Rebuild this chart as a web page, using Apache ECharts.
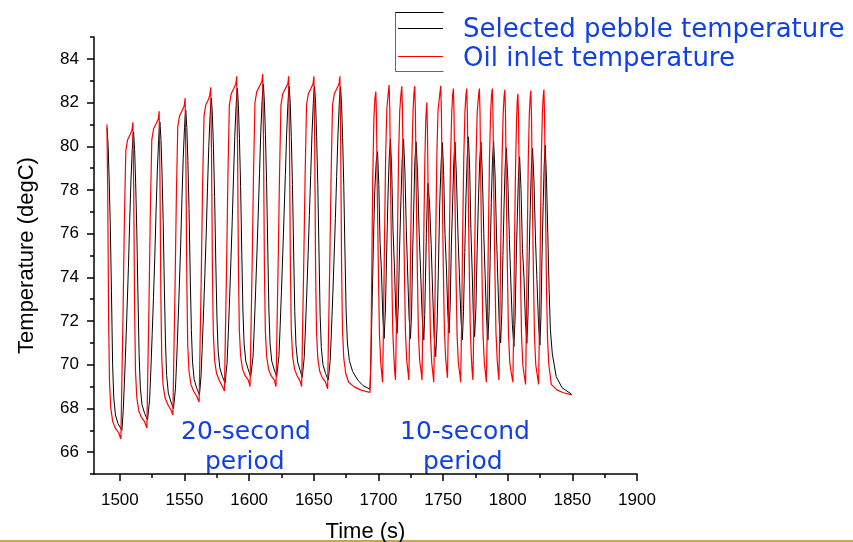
<!DOCTYPE html>
<html lang="en">
<head>
<meta charset="UTF-8">
<title>Pebble temperature</title>
<script src="https://cdn.jsdelivr.net/npm/echarts@6/dist/echarts.min.js"></script>
<style>
  html, body { margin: 0; padding: 0; background: #fff; }
  #chart { width: 853px; height: 542px; }
</style>
</head>
<body>
<div id="chart"></div>
<script>
// axis ticks
var xMajorTicks = [1500, 1550, 1600, 1650, 1700, 1750, 1800, 1850, 1900];
var xMinorTicks = [1525, 1575, 1625, 1675, 1725, 1775, 1825, 1875];
var yMajorTicks = [66, 68, 70, 72, 74, 76, 78, 80, 82, 84];
var yMinorTicks = [65, 67, 69, 71, 73, 75, 77, 79, 81, 83, 85];

var seriesNames = ['Selected pebble temperature', 'Oil inlet temperature'];

// [time (s), temperature (degC)]
var pebbleTemp = [
  [1490.1,80.85],[1490.9,80.05],[1491.7,78.55],[1492.6,76.35],[1493.5,73.35],[1494.4,70.0],[1495.3,68.5],[1496.6,67.7],[1498.6,67.3],[1501.6,67.0],
  [1502.6,67.9],[1503.6,69.3],[1504.6,70.9],[1505.6,72.6],[1506.6,74.4],[1507.6,76.56],[1508.6,78.46],[1509.6,79.86],[1510.2,80.46],
  [1510.6,80.66],[1511.4,79.86],[1512.2,78.36],[1513.1,76.16],[1514.0,73.16],[1514.9,70.48],[1515.8,68.98],[1517.1,68.18],[1519.1,67.78],[1521.4,67.48],
  [1523.0,68.38],[1524.0,69.78],[1525.0,71.38],[1526.0,73.08],[1527.0,74.88],[1528.0,77.0],[1529.0,78.9],[1530.0,80.3],[1530.6,80.9],
  [1531.0,81.1],[1531.8,80.3],[1532.6,78.8],[1533.5,76.6],[1534.4,73.6],[1535.3,71.0],[1536.2,69.5],[1537.5,68.7],[1539.5,68.3],[1541.5,68.0],
  [1543.0,68.9],[1544.0,70.3],[1545.0,71.9],[1546.0,73.6],[1547.0,75.4],[1548.0,77.55],[1549.0,79.45],[1550.0,80.85],[1550.6,81.45],
  [1551.0,81.65],[1551.8,80.85],[1552.6,79.35],[1553.5,77.15],[1554.4,74.15],[1555.3,71.62],[1556.2,70.12],[1557.5,69.32],[1559.5,68.92],[1561.6,68.62],
  [1562.8,69.52],[1563.8,70.92],[1564.8,72.52],[1565.8,74.22],[1566.8,76.02],[1567.8,78.1],[1568.8,80.0],[1569.8,81.4],[1570.4,82.0],
  [1570.8,82.2],[1571.6,81.4],[1572.4,79.9],[1573.3,77.7],[1574.2,74.7],[1575.1,72.16],[1576.0,70.66],[1577.3,69.86],[1579.3,69.46],[1581.4,69.16],
  [1582.9,70.06],[1583.9,71.46],[1584.9,73.06],[1585.9,74.76],[1586.9,76.56],[1587.9,78.55],[1588.9,80.45],[1589.9,81.85],[1590.5,82.45],
  [1590.9,82.65],[1591.7,81.85],[1592.5,80.35],[1593.4,78.15],[1594.3,75.15],[1595.2,72.46],[1596.1,70.96],[1597.4,70.16],[1599.4,69.76],[1601.2,69.46],
  [1603.0,70.36],[1604.0,71.76],[1605.0,73.36],[1606.0,75.06],[1607.0,76.86],[1608.0,78.74],[1609.0,80.64],[1610.0,82.04],[1610.6,82.64],
  [1611.0,82.84],[1611.8,82.04],[1612.6,80.54],[1613.5,78.34],[1614.4,75.34],[1615.3,72.46],[1616.2,70.96],[1617.5,70.16],[1619.5,69.76],[1621.3,69.46],
  [1623.0,70.36],[1624.0,71.76],[1625.0,73.36],[1626.0,75.06],[1627.0,76.86],[1628.0,78.65],[1629.0,80.55],[1630.0,81.95],[1630.6,82.55],
  [1631.0,82.75],[1631.8,81.95],[1632.6,80.45],[1633.5,78.25],[1634.4,75.25],[1635.3,72.43],[1636.2,70.93],[1637.5,70.13],[1639.5,69.73],[1641.1,69.43],
  [1642.6,70.33],[1643.6,71.73],[1644.6,73.33],[1645.6,75.03],[1646.6,76.83],[1647.6,78.65],[1648.6,80.55],[1649.6,81.95],[1650.2,82.55],
  [1650.6,82.75],[1651.4,81.95],[1652.2,80.45],[1653.1,78.25],[1654.0,75.25],[1654.9,72.3],[1655.8,70.8],[1657.1,70.0],[1659.1,69.6],[1661.2,69.3],
  [1662.7,70.2],[1663.7,71.6],[1664.7,73.2],[1665.7,74.9],[1666.7,76.7],[1667.7,78.62],[1668.7,80.52],[1669.7,81.92],[1670.3,82.52],
  [1670.7,82.72],[1671.5,81.9],[1672.3,80.4],[1673.2,78.2],[1674.1,75.2],[1675.0,72.5],[1676.0,71.0],[1677.5,70.2],[1680.0,69.7],[1684.0,69.3],[1688.0,69.05],[1693.5,68.88],
  // 10-second period
  [1694.3,70.5],[1695.2,73.0],[1696.2,75.8],[1697.2,78.0],[1698.3,79.3],
  [1699.3,79.75],[1700.3,78.25],[1701.3,75.55],[1702.4,74.2],[1703.4,72.2],[1704.4,71.2],[1705.4,72.5],[1706.4,75.2],[1707.3,77.53],[1708.3,79.43],
  [1709.3,80.33],[1710.3,78.83],[1711.3,76.13],[1712.4,74.44],[1713.4,72.44],[1714.4,71.44],[1715.4,72.74],[1716.4,75.44],[1717.4,77.53],[1718.4,79.43],
  [1719.4,80.33],[1720.5,78.83],[1721.6,76.13],[1722.6,74.2],[1723.7,72.2],[1724.8,71.2],[1725.7,72.5],[1726.5,75.2],[1727.4,77.4],[1728.2,79.3],
  [1729.1,80.2],[1730.3,78.7],[1731.5,76.0],[1732.7,74.14],[1733.9,72.14],[1735.1,71.14],[1735.8,72.3],[1736.4,74.0],[1737.1,76.0],[1737.8,77.6],
  [1738.4,78.3],[1739.6,77.3],[1740.8,75.5],[1742.0,73.2],[1743.1,71.3],[1744.3,70.37],[1745.3,71.67],[1746.4,74.37],[1747.4,77.36],[1748.5,79.26],
  [1749.5,80.16],[1750.5,78.66],[1751.5,75.96],[1752.6,74.44],[1753.6,72.44],[1754.6,71.44],[1755.5,72.74],[1756.4,75.44],[1757.4,77.4],[1758.3,79.3],
  [1759.2,80.2],[1760.3,78.7],[1761.5,76.0],[1762.6,74.14],[1763.8,72.14],[1764.9,71.14],[1765.8,72.44],[1766.8,75.14],[1767.7,77.63],[1768.7,79.53],
  [1769.6,80.43],[1770.6,78.93],[1771.5,76.23],[1772.5,74.29],[1773.4,72.29],[1774.4,71.29],[1775.4,72.59],[1776.4,75.29],[1777.3,77.4],[1778.3,79.3],
  [1779.3,80.2],[1780.4,78.7],[1781.5,76.0],[1782.5,74.14],[1783.6,72.14],[1784.7,71.14],[1785.6,72.44],[1786.5,75.14],[1787.3,77.43],[1788.2,79.33],
  [1789.1,80.23],[1790.2,78.73],[1791.3,76.03],[1792.3,74.0],[1793.4,72.0],[1794.5,71.0],[1795.4,72.3],[1796.3,75.0],[1797.1,77.13],[1798.0,79.03],
  [1798.9,79.93],[1800.1,78.43],[1801.3,75.73],[1802.4,73.83],[1803.6,71.83],[1804.8,70.83],[1805.7,72.13],[1806.6,74.83],[1807.4,76.72],[1808.3,78.62],
  [1809.2,79.52],[1810.3,78.02],[1811.4,75.32],[1812.6,73.98],[1813.7,71.98],[1814.8,70.98],[1815.7,72.28],[1816.6,74.98],[1817.4,77.1],[1818.3,79.0],
  [1819.2,79.9],[1820.3,78.4],[1821.5,75.7],[1822.6,73.9],[1823.8,71.9],[1824.9,70.9],[1825.7,72.2],[1826.5,74.9],[1827.4,77.25],[1828.2,79.15],
  [1829.0,80.05],[1830.0,78.5],[1831.0,76.0],[1832.0,73.5],[1833.0,71.6],[1834.5,70.5],[1837.5,69.46],[1842.0,68.95],[1849.5,68.65]
];

var oilTemp = [
  [1490.0,81.0],[1490.6,78.0],[1491.3,72.1],[1492.0,69.2],[1493.0,68.0],[1494.5,67.4],[1496.5,67.1],[1499.0,66.9],[1500.8,66.6],
  [1501.5,69.1],[1502.4,72.1],[1503.5,76.6],[1504.6,79.8],[1506.0,80.3],[1508.1,80.55],[1509.4,80.75],
  [1510.1,81.1],[1510.7,78.1],[1511.4,72.6],[1512.1,69.7],[1513.1,68.5],[1514.6,67.9],[1516.6,67.6],[1519.1,67.4],[1520.9,67.1],
  [1521.6,69.6],[1522.5,72.6],[1523.6,77.1],[1524.7,80.3],[1526.1,80.8],[1528.2,81.05],[1529.7,81.25],
  [1530.4,81.6],[1531.0,78.6],[1531.7,73.2],[1532.4,70.3],[1533.4,69.1],[1534.9,68.5],[1536.9,68.2],[1539.4,67.95],[1541.0,67.7],
  [1541.7,70.2],[1542.6,73.2],[1543.7,77.7],[1544.8,80.9],[1546.2,81.4],[1548.3,81.65],[1549.8,81.85],
  [1550.5,82.2],[1551.1,79.2],[1551.8,73.8],[1552.5,70.9],[1553.5,69.7],[1555.0,69.1],[1557.0,68.8],[1559.5,68.55],[1561.3,68.3],
  [1562.0,70.8],[1562.9,73.8],[1564.0,78.2],[1565.1,81.4],[1566.5,81.9],[1568.6,82.15],[1569.6,82.35],
  [1570.3,82.7],[1570.9,79.7],[1571.6,74.3],[1572.3,71.4],[1573.3,70.2],[1574.8,69.6],[1576.8,69.3],[1579.3,69.0],[1580.9,68.8],
  [1581.6,71.3],[1582.5,74.3],[1583.6,78.7],[1584.7,81.9],[1586.1,82.4],[1588.2,82.65],[1589.7,82.85],
  [1590.4,83.2],[1591.0,80.2],[1591.7,74.5],[1592.4,71.6],[1593.4,70.4],[1594.9,69.8],[1596.9,69.5],[1599.4,69.3],[1600.7,69.0],
  [1601.4,71.5],[1602.3,74.5],[1603.4,78.8],[1604.5,82.0],[1605.9,82.5],[1608.0,82.75],[1609.8,82.95],
  [1610.5,83.3],[1611.1,80.3],[1611.8,74.5],[1612.5,71.6],[1613.5,70.4],[1615.0,69.8],[1617.0,69.5],[1619.5,69.3],[1620.8,69.0],
  [1621.5,71.5],[1622.4,74.5],[1623.5,78.7],[1624.6,81.9],[1626.0,82.4],[1628.1,82.65],[1629.9,82.85],
  [1630.6,83.2],[1631.2,80.2],[1631.9,74.5],[1632.6,71.6],[1633.6,70.4],[1635.1,69.8],[1637.1,69.5],[1639.4,69.25],[1640.6,69.0],
  [1641.3,71.5],[1642.2,74.5],[1643.3,78.7],[1644.4,81.9],[1645.8,82.4],[1647.9,82.65],[1649.4,82.85],
  [1650.1,83.2],[1650.7,80.2],[1651.4,74.4],[1652.1,71.5],[1653.1,70.3],[1654.6,69.7],[1656.6,69.4],[1659.1,69.2],[1660.7,68.9],
  [1661.4,71.4],[1662.3,74.4],[1663.4,78.7],[1664.5,81.9],[1665.9,82.4],[1668.0,82.65],[1669.5,82.85],
  [1670.2,83.2],[1670.8,80.2],[1671.5,74.5],[1672.2,71.6],[1673.2,70.3],[1674.7,69.6],[1677.0,69.2],[1681.0,69.0],[1686.0,68.85],[1693.4,68.73],
  // 10-second period
  [1694.1,70.0],[1694.8,74.0],[1695.6,78.5],[1696.5,81.3],[1697.3,82.2],
  [1698.0,82.5],[1698.5,81.3],[1699.2,77.5],[1700.0,74.2],[1700.8,71.4],[1701.8,70.1],[1702.7,69.5],[1703.2,69.2],[1703.9,71.7],[1704.7,75.7],[1705.6,79.6],[1706.5,81.7],[1707.7,82.5],
  [1708.3,82.8],[1708.8,81.6],[1709.5,77.8],[1710.3,74.3],[1711.1,71.5],[1712.1,70.2],[1712.7,69.6],[1713.2,69.3],[1713.9,71.8],[1714.7,75.8],[1715.6,79.55],[1716.5,81.65],[1717.5,82.45],
  [1718.1,82.75],[1718.6,81.55],[1719.3,77.75],[1720.1,74.3],[1720.9,71.5],[1721.9,70.2],[1723.0,69.6],[1723.5,69.3],[1724.2,71.8],[1725.0,75.8],[1725.9,79.55],[1726.8,81.65],[1727.5,82.45],
  [1728.1,82.75],[1728.6,81.55],[1729.3,77.75],[1730.1,74.3],[1730.9,71.5],[1731.9,70.2],[1733.2,69.6],[1733.7,69.3],[1734.3,71.8],[1735.0,75.5],[1735.8,79.0],[1736.6,81.2],
  [1737.4,82.0],[1737.9,80.8],[1738.6,77.0],[1739.4,74.2],[1740.2,71.4],[1741.2,70.1],[1742.3,69.5],[1742.8,69.2],[1743.5,71.7],[1744.3,75.7],[1745.2,79.55],[1746.1,81.65],[1747.6,82.45],
  [1748.2,82.77],[1748.7,81.6],[1749.4,77.8],[1750.2,74.4],[1751.0,71.6],[1752.0,70.3],[1752.9,69.7],[1753.4,69.4],[1754.1,71.9],[1754.9,75.9],[1755.8,79.45],[1756.7,81.55],[1757.4,82.35],
  [1758.0,82.64],[1758.5,81.45],[1759.2,77.65],[1760.0,74.2],[1760.8,71.4],[1761.8,70.1],[1763.1,69.5],[1763.6,69.2],[1764.3,71.7],[1765.1,75.7],[1766.0,79.45],[1766.9,81.55],[1767.7,82.35],
  [1768.3,82.64],[1768.8,81.45],[1769.5,77.65],[1770.3,74.3],[1771.1,71.5],[1772.0,70.2],[1772.6,69.6],[1773.1,69.3],[1773.8,71.8],[1774.6,75.8],[1775.5,79.45],[1776.4,81.55],[1777.5,82.35],
  [1778.1,82.64],[1778.6,81.45],[1779.3,77.65],[1780.1,74.2],[1780.9,71.4],[1781.9,70.1],[1783.0,69.5],[1783.5,69.2],[1784.2,71.7],[1785.0,75.7],[1785.9,79.45],[1786.8,81.55],[1787.5,82.35],
  [1788.1,82.64],[1788.6,81.45],[1789.3,77.65],[1790.1,74.3],[1790.9,71.5],[1791.9,70.2],[1792.7,69.6],[1793.2,69.3],[1793.9,71.8],[1794.7,75.8],[1795.6,79.4],[1796.5,81.5],[1797.2,82.3],
  [1797.8,82.58],[1798.3,81.4],[1799.0,77.6],[1799.8,74.2],[1800.6,71.4],[1801.6,70.1],[1802.8,69.6],[1804.0,69.2],[1804.6,71.7],[1805.3,75.7],[1806.1,79.2],[1806.9,81.3],[1807.4,82.1],
  [1807.9,82.4],[1808.4,81.2],[1809.1,77.4],[1809.9,74.1],[1810.7,71.3],[1811.7,70.0],[1812.8,69.5],[1813.8,69.1],[1814.4,71.6],[1815.1,75.6],[1815.9,79.35],[1816.7,81.45],[1817.4,82.25],
  [1817.9,82.55],[1818.4,81.35],[1819.1,77.55],[1819.9,74.1],[1820.7,71.3],[1821.7,70.0],[1822.9,69.5],[1823.9,69.1],[1824.5,71.6],[1825.2,75.6],[1826.0,79.4],[1826.8,81.5],[1827.5,82.3],
  [1828.0,82.6],[1828.5,81.4],[1829.2,77.6],[1830.0,73.5],[1830.8,71.2],[1831.8,70.0],[1833.7,69.1],[1838.0,68.85],[1843.0,68.72],[1849.5,68.62]
];

var blue = '#1240e8';
var chart = echarts.init(document.getElementById('chart'));

var axisFont = { fontFamily: 'Liberation Sans', fontSize: 17, color: '#000' };
var legendFont = '26px "DejaVu Sans"';
var noteFont = '25px "DejaVu Sans"';

var option = {
  backgroundColor: '#fff',
  animation: false,
  grid: { left: 94, right: 216, top: 37, bottom: 68, outerBoundsMode: 'none', containLabel: false },
  xAxis: [{
    type: 'value', min: 1480, max: 1900,
    name: 'Time (s)', nameLocation: 'middle', nameGap: 47,
    nameTextStyle: { fontFamily: 'Liberation Sans', fontSize: 22, color: '#000' },
    axisLine: { show: true, lineStyle: { color: '#000', width: 1.5 } },
    axisTick: { show: true, length: 7, customValues: xMajorTicks, lineStyle: { color: '#000', width: 1.5 } },
    axisLabel: Object.assign({ margin: 18, customValues: xMajorTicks, formatter: function (v) { return String(v); } }, axisFont),
    splitLine: { show: false }
  }, {
    type: 'value', min: 1480, max: 1900, position: 'bottom',
    axisLine: { show: false },
    axisTick: { show: true, length: 4, customValues: xMinorTicks, lineStyle: { color: '#000', width: 1.5 } },
    axisLabel: { show: false },
    splitLine: { show: false }
  }],
  yAxis: [{
    type: 'value', min: 65, max: 85,
    name: 'Temperature (degC)', nameLocation: 'middle', nameGap: 56,
    nameTextStyle: { fontFamily: 'Liberation Sans', fontSize: 22, color: '#000' },
    axisLine: { show: true, lineStyle: { color: '#000', width: 1.5 } },
    axisTick: { show: true, length: 7, customValues: yMajorTicks, lineStyle: { color: '#000', width: 1.5 } },
    axisLabel: Object.assign({ margin: 15, customValues: yMajorTicks }, axisFont),
    splitLine: { show: false }
  }, {
    type: 'value', min: 65, max: 85, position: 'left',
    axisLine: { show: false },
    axisTick: { show: true, length: 4, customValues: yMinorTicks, lineStyle: { color: '#000', width: 1.5 } },
    axisLabel: { show: false },
    splitLine: { show: false }
  }],
  series: [{
    name: seriesNames[0], type: 'line', data: pebbleTemp,
    showSymbol: false, color: '#000',
    lineStyle: { color: '#000', width: 1 }
  }, {
    name: seriesNames[1], type: 'line', data: oilTemp,
    showSymbol: false, color: '#ff0000',
    lineStyle: { color: '#ff0000', width: 1.2 }
  }],
  graphic: [
    // legend frame and keys
    { type: 'line', shape: { x1: 395, y1: 12.5, x2: 443.5, y2: 12.5 }, style: { stroke: '#000', lineWidth: 1 } },
    { type: 'polyline', shape: { points: [[395.5, 12.5], [395.5, 71.5], [443.5, 71.5]] }, style: { stroke: '#666', lineWidth: 1, fill: null } },
    { type: 'line', shape: { x1: 398, y1: 28.5, x2: 443, y2: 28.5 }, style: { stroke: '#000', lineWidth: 1 } },
    { type: 'line', shape: { x1: 398, y1: 56.5, x2: 443, y2: 56.5 }, style: { stroke: '#ff0000', lineWidth: 1 } },
    { type: 'text', x: 463, y: 30.5, style: { text: seriesNames[0], font: legendFont, fill: blue, verticalAlign: 'middle' } },
    { type: 'text', x: 463, y: 59, style: { text: seriesNames[1], font: legendFont, fill: blue, verticalAlign: 'middle' } },
    // annotations
    { type: 'text', left: 181, top: 420, style: { text: '20-second', font: noteFont, fill: blue } },
    { type: 'text', left: 205, top: 450, style: { text: 'period', font: noteFont, fill: blue } },
    { type: 'text', left: 400, top: 420, style: { text: '10-second', font: noteFont, fill: blue } },
    { type: 'text', left: 423, top: 450, style: { text: 'period', font: noteFont, fill: blue } },
    // bottom slide rule
    { type: 'rect', shape: { x: 0, y: 540, width: 853, height: 2 }, style: { fill: '#c9a555' } }
  ]
};

chart.setOption(option);
</script>
</body>
</html>
